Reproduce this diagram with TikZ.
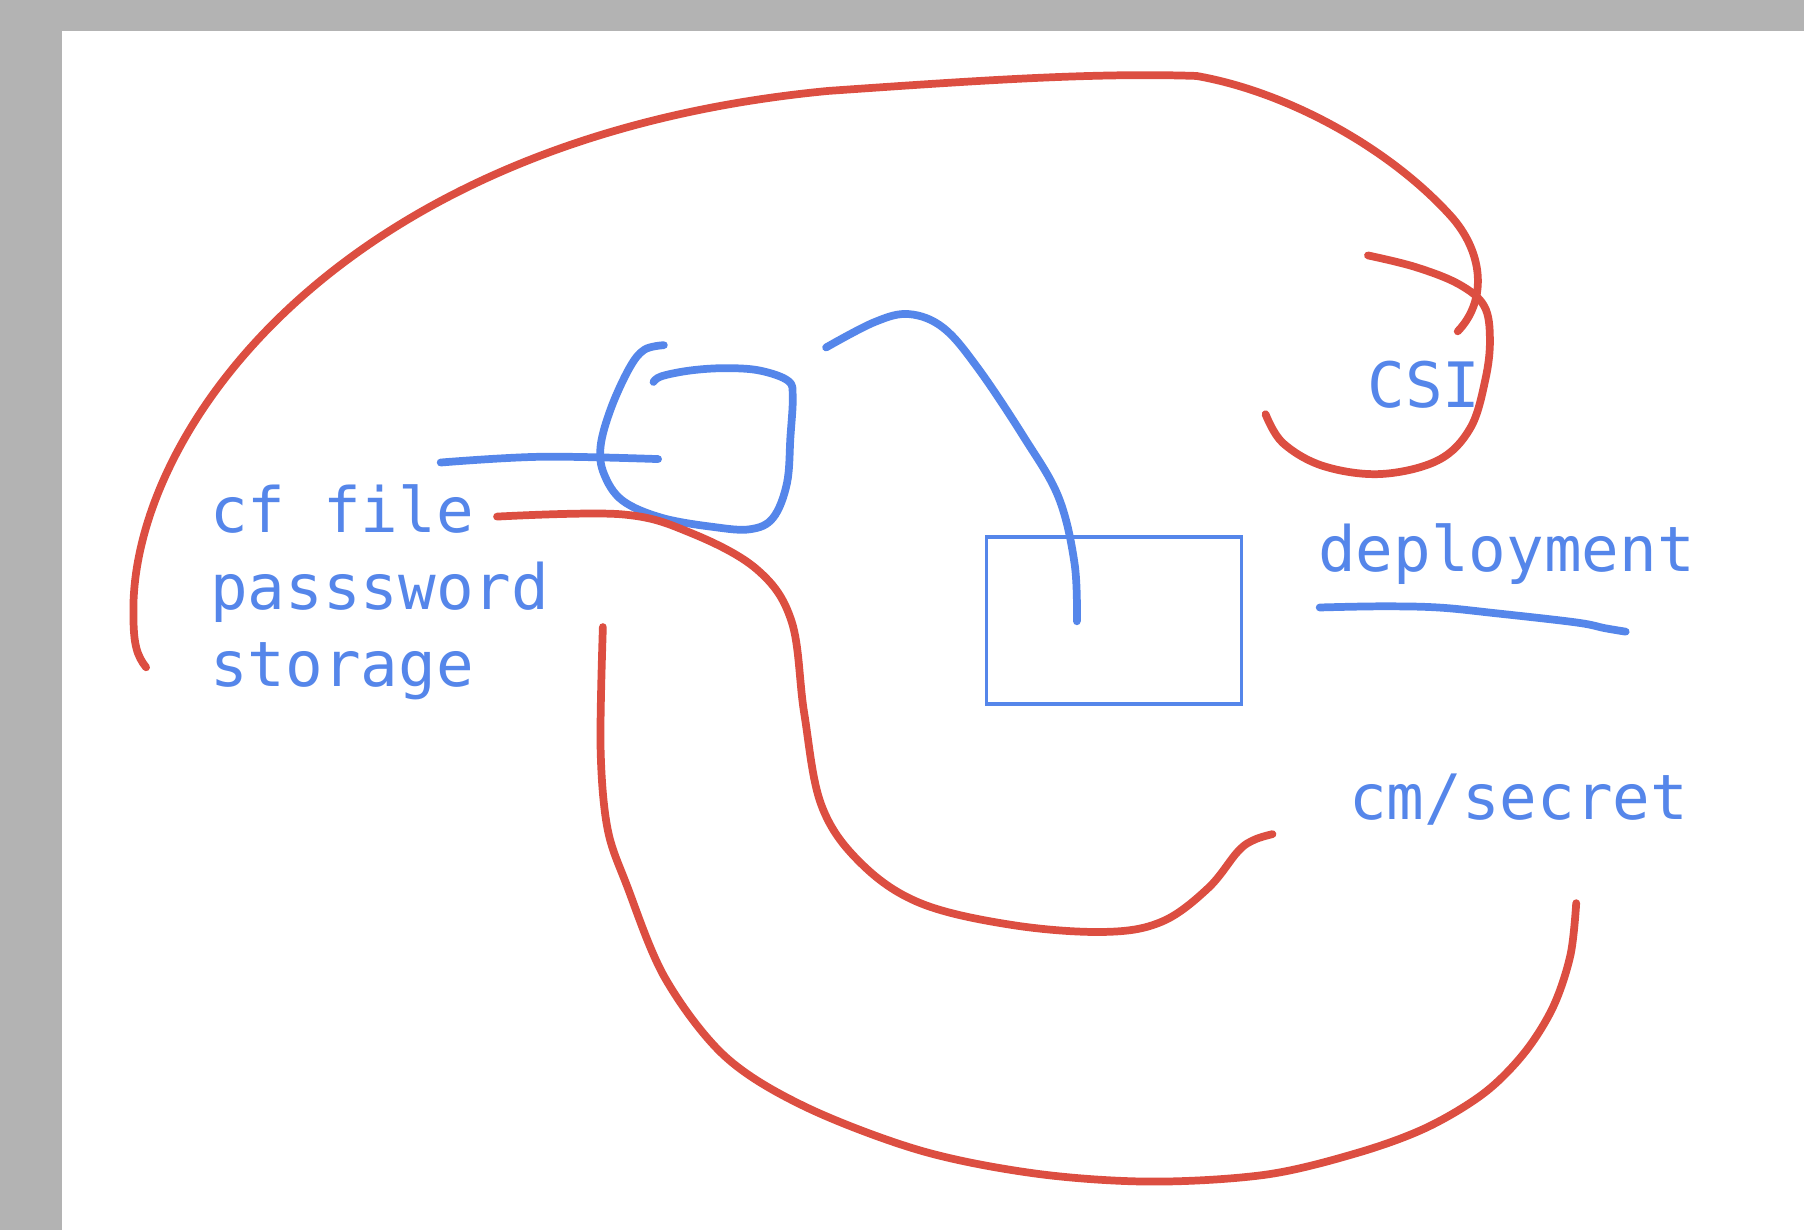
\documentclass[tikz,border=0pt]{standalone}
\usepackage{fontspec}
\newfontfamily\sketchfont{DejaVu Sans Mono}
\usetikzlibrary{positioning}
\definecolor{penblue}{RGB}{85,134,234}
\definecolor{penred}{RGB}{220,78,65}
\definecolor{frame}{RGB}{179,179,179}
\tikzset
{
    word/.style   = {inner sep=0pt, anchor=base west, text=penblue, font=\sketchfont\fontsize{17.8}{21.9}\selectfont},
    box/.style    = {rectangle, draw=penblue, line width=1pt, inner sep=0pt, anchor=north west, minimum width=2.55cm, minimum height=1.67cm},
    redpen/.style = {draw=penred, line width=2.2pt, line cap=round, line join=round},
    bluepen/.style= {draw=penblue, line width=2.2pt, line cap=round, line join=round}
}
\begin{document}
\begin{tikzpicture}[x=0.011505cm, y=-0.011505cm]
		\useasboundingbox (0,0) rectangle (1568,1069);
		\fill[frame] (0,0) rectangle (1568,1069);
		\fill[white] (54,27) rectangle (1568,1069);
		% labels
		\node (cf)		[word] 	at (182,463)	{cf file};
		\node (pw)		[word] 	at (182,530)	{passsword};
		\node (st)		[word] 	at (182,597)	{storage};
		\node (csi)		[word] 	at (1188,354)	{CSI};
		\node (dep)		[word] 	at (1145,497)	{deployment};
		\node (cm)		[word] 	at (1172,712)	{cm/secret};
		\node (pod)		[box] 	at (856,465)	{};
		% blue strokes
		\draw[bluepen] plot[smooth, tension=0.6] coordinates {(383,402) (470,397) (572,399)};
		\draw[bluepen] plot[smooth, tension=0.6] coordinates {(577,300) (560,304) (547,320) (531,355) (522,388) (525,412) (541,435) (575,450) (620,458) (652,460) (672,450) (684,420) (687,380) (689,345) (685,331) (660,322) (630,320) (600,322) (575,327) (568,332)};
		\draw[bluepen] plot[smooth, tension=0.6] coordinates {(718,302) (760,280) (790,273) (820,285) (850,320) (890,380) (920,432) (934,490) (936,540)};
		\draw[bluepen] plot[smooth, tension=0.6] coordinates {(1147,528) (1200,527) (1250,528) (1300,533) (1370,541) (1395,546) (1413,549)};
		% red strokes
		\draw[redpen] (127,580) .. controls (119,570) and (116,560) .. (116,535)
			.. controls (112,380) and (290,120) .. (720,79)
			.. controls (850,70) and (950,63) .. (1040,66)
			.. controls (1120,80) and (1210,130) .. (1263,190)
			.. controls (1290,222) and (1292,262) .. (1267,288);
		\draw[redpen] plot[smooth, tension=0.6] coordinates {(1189,222) (1230,232) (1268,247) (1290,266) (1295,295) (1291,330) (1278,372) (1250,400) (1200,412) (1150,405) (1115,385) (1100,360)};
		\draw[redpen] plot[smooth, tension=0.6] coordinates {(432,449) (540,447) (600,463) (658,495) (688,540) (699,620) (714,700) (748,750) (800,785) (880,804) (960,810) (1010,801) (1050,772) (1076,740) (1090,730) (1106,725)};
		\draw[redpen] plot[smooth, tension=0.55] coordinates {(524,545) (522,650) (528,720) (545,770) (578,850) (630,918) (700,962) (800,1000) (900,1020) (1000,1027) (1100,1021) (1180,1002) (1240,980) (1290,950) (1325,915) (1350,875) (1365,830) (1370,785)};
	\end{tikzpicture}
\end{document}
